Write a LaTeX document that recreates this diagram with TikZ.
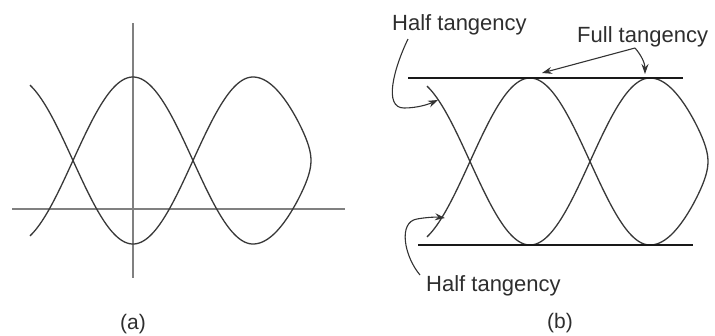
\documentclass[tikz,border=0pt]{standalone}
\usepackage{fontspec}
\setmainfont{Liberation Sans}
\usetikzlibrary{arrows.meta}
\definecolor{curvecol}{gray}{0.22}
\definecolor{axiscol}{gray}{0.5}
\definecolor{linecol}{gray}{0.1}
\tikzset{
  wave/.style={draw=curvecol, line width=1.3pt},
  axisline/.style={draw=axiscol, line width=1.5pt},
  tangline/.style={draw=linecol, line width=1.2pt},
  lbl/.style={font=\fontsize{22}{26}\selectfont, text=black!82, inner sep=0pt},
  captext/.style={font=\fontsize{21}{25}\selectfont, text=black!82, inner sep=0pt},
  pointer/.style={draw=black!80, line width=1.1pt, -{Stealth[length=10pt,width=7pt]}}
}
\begin{document}
\begin{tikzpicture}[x=1pt,y=-1pt]
\useasboundingbox (0,0) rectangle (715,335);
% ---------- panel (a) axes ----------
\coordinate (vaT) at (133,23);
\coordinate (vaB) at (133,278);
\coordinate (haL) at (12,209);
\coordinate (haR) at (345,209);
\draw[axisline] (vaT) -- (vaB);
\draw[axisline] (haL) -- (haR);
% ---------- waves for both panels ----------
\foreach \P/\c in {133/160.5, 530/161.5}{
  \draw[wave] plot[domain=\P-103:\P+120, samples=120] (\x, {\c + 83.5*cos(1.5*(\x-\P))});
  \draw[wave] plot[domain=\P-103:\P+120, samples=120] (\x, {\c - 83.5*cos(1.5*(\x-\P))});
  \draw[wave] plot[domain=0:180, samples=90] ({\P+120+58*asin(0.97*sin(\x))/asin(0.97)}, {\c - 83.5*cos(\x)});
}
% ---------- panel (b) tangent lines ----------
\coordinate (tlL) at (408,78);
\coordinate (tlR) at (683,78);
\coordinate (blL) at (418,245);
\coordinate (blR) at (693,245);
\draw[tangline] (tlL) -- (tlR);
\draw[tangline] (blL) -- (blR);
% ---------- labels ----------
\node[lbl, anchor=base west] (ht1) at (392,30) {Half tangency};
\node[lbl, anchor=base west] (ft) at (577,42) {Full tangency};
\node[lbl, anchor=base west] (ht2) at (426,291) {Half tangency};
\node[captext, anchor=base] (capa) at (133,329) {(a)};
\node[captext, anchor=base] (capb) at (560,328) {(b)};
% ---------- pointers ----------
\coordinate (ht1s) at (408,39);
\coordinate (ht1e) at (438,100);
\coordinate (ht2s) at (420,275);
\coordinate (ht2e) at (445,218);
\coordinate (fts) at (635,48);
\coordinate (ft1e) at (542,73);
\coordinate (ft2e) at (645,74);
\draw[pointer] (ht1s) .. controls (394,68) and (383,108) .. (404,108) .. controls (418,108) and (429,104) .. (ht1e);
\draw[pointer] (ht2s) .. controls (404,256) and (398,222) .. (417,219) .. controls (428,217) and (437,217) .. (ht2e);
\draw[pointer] (fts) -- (ft1e);
\draw[pointer] (fts) .. controls (642,56) and (645,64) .. (ft2e);
\end{tikzpicture}
\end{document}
